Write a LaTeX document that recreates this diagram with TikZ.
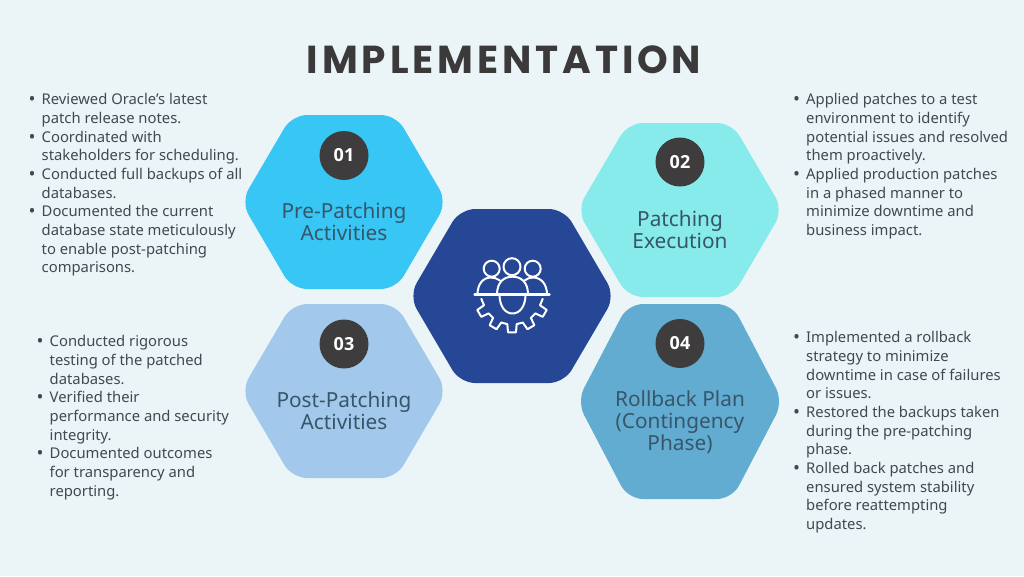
\documentclass[tikz,border=0pt]{standalone}
\usepackage{fontspec}
\setmainfont{Noto Sans}
\newfontfamily\titlefont[LetterSpace=10]{Poppins}
\newfontfamily\numfont{Open Sans}
\usetikzlibrary{positioning}
\definecolor{pagebg}{HTML}{EBF5F8}
\definecolor{hexone}{HTML}{38C6F4}
\definecolor{hextwo}{HTML}{86EBEA}
\definecolor{hexthree}{HTML}{A2C9EC}
\definecolor{hexfour}{HTML}{62ACD1}
\definecolor{hexmid}{HTML}{264796}
\definecolor{dotgrey}{HTML}{3E3C3C}
\definecolor{bodytext}{HTML}{3F4A50}
\definecolor{hextext}{HTML}{37566A}
\tikzset{
    numdot/.style={circle, fill=dotgrey, minimum size=49pt, inner sep=0pt, text=white, font=\fontsize{18}{20}\selectfont\numfont\bfseries},
    hexlabel/.style={align=center, text=hextext, inner sep=0pt, font=\fontsize{20.8}{22}\selectfont},
    bulletlist/.style={align=left, anchor=north west, inner sep=0pt, text=bodytext, font=\fontsize{14.8}{18.65}\selectfont},
    iconline/.style={draw=white, line width=2pt, line cap=round, line join=round}
}
\newcommand{\bul}{\makebox[11.5pt][l]{\hspace*{-1.5pt}\raisebox{-1pt}{\fontsize{18.5}{20}\selectfont\textbullet}}}
\newcommand{\nob}{\hspace*{11.5pt}}
\begin{document}
\begin{tikzpicture}[x=1pt,y=-1pt]
\useasboundingbox (0,0) rectangle (1024,576);
\fill[pagebg] (0,0) rectangle (1024,576);
\node[inner sep=0pt, text=dotgrey!95!black, font=\fontsize{39}{40}\selectfont\titlefont\bfseries] (title) at (504,59.5) {IMPLEMENTATION};
% Hexagons
\foreach \cx/\cy/\hh/\col in {344/202/87/hexone, 680/210/87/hextwo, 344/391/87/hexthree, 680/401.5/97.5/hexfour, 512/296/87/hexmid} {
    \fill[\col, rounded corners=15pt] (\cx-103,\cy) -- (\cx-52,\cy-\hh) -- (\cx+52,\cy-\hh) -- (\cx+103,\cy) -- (\cx+52,\cy+\hh) -- (\cx-52,\cy+\hh) -- cycle;
}
\node[numdot] (num1) at (344,155.5) {01};
\node[numdot] (num2) at (680,162) {02};
\node[numdot] (num3) at (344,344) {03};
\node[numdot] (num4) at (680,343.5) {04};
\node[hexlabel] (hex1) at (344,222) {Pre-Patching\\Activities};
\node[hexlabel] (hex2) at (680,230) {Patching\\Execution};
\node[hexlabel] (hex3) at (344,411) {Post-Patching\\Activities};
\node[hexlabel] (hex4) at (680,422) {Rollback Plan\\(Contingency\\Phase)};
% Centre icon
\draw[iconline] (491.7,268.7) circle (8);
\draw[iconline] (512,266.7) circle (8.5);
\draw[iconline] (532.7,268.7) circle (8);
\draw[iconline, line width=2.4pt] (474.5,294.5) -- (549.5,294.5);
\draw[iconline] (497,294.5) .. controls (497,282) and (504,276.7) .. (512.5,276.7) .. controls (521,276.7) and (528,282) .. (528,294.5);
\draw[iconline] (499.5,294.5) .. controls (499.5,306) and (505,313.5) .. (512.5,313.5) .. controls (520,313.5) and (525.5,306) .. (525.5,294.5);
\draw[iconline] (477.5,294.5) .. controls (477.5,284) and (483,277.5) .. (491,277.5) .. controls (494,277.5) and (497,278.5) .. (500,280.5);
\draw[iconline] (547,294.5) .. controls (547,284) and (541,277.5) .. (533,277.5) .. controls (530,277.5) and (527,278.5) .. (524.5,280.5);
\begin{scope}[shift={(512,294.5)}]
\draw[iconline] (172:31) \foreach \a in {150,120,90,60,30} { -- (\a+9:30) -- (\a+6:38) -- (\a-6:38) -- (\a-9:30) } -- (8:31);
\end{scope}
% Text blocks
\node[bulletlist] (list1) at (30,93.5) {\bul Reviewed Oracle’s latest\\\nob patch release notes.\\\bul Coordinated with\\\nob stakeholders for scheduling.\\\bul Conducted full backups of all\\\nob databases.\\\bul Documented the current\\\nob database state meticulously\\\nob to enable post-patching\\\nob comparisons.};
\node[bulletlist] (list2) at (794.5,93.5) {\bul Applied patches to a test\\\nob environment to identify\\\nob potential issues and resolved\\\nob them proactively.\\\bul Applied production patches\\\nob in a phased manner to\\\nob minimize downtime and\\\nob business impact.};
\node[bulletlist] (list3) at (38,335.5) {\bul Conducted rigorous\\\nob testing of the patched\\\nob databases.\\\bul Verified their\\\nob performance and security\\\nob integrity.\\\bul Documented outcomes\\\nob for transparency and\\\nob reporting.};
\node[bulletlist] (list4) at (794.5,331.5) {\bul Implemented a rollback\\\nob strategy to minimize\\\nob downtime in case of failures\\\nob or issues.\\\bul Restored the backups taken\\\nob during the pre-patching\\\nob phase.\\\bul Rolled back patches and\\\nob ensured system stability\\\nob before reattempting\\\nob updates.};
\end{tikzpicture}
\end{document}
